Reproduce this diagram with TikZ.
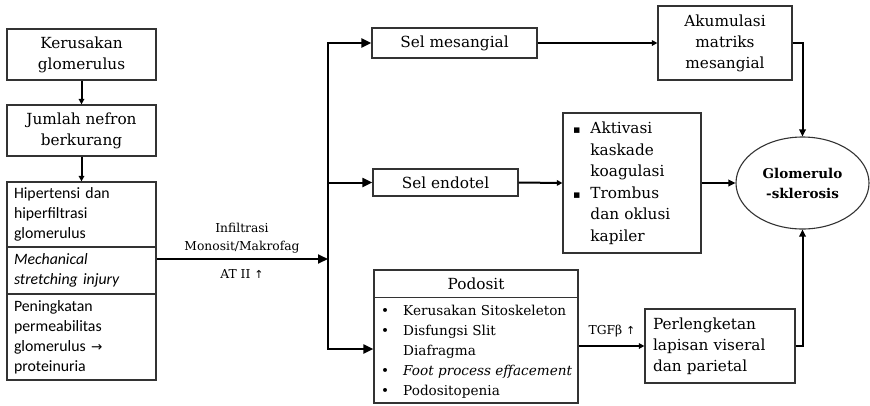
\documentclass[tikz,border=0pt]{standalone}
\usepackage{fontspec}
\setmainfont{DejaVu Serif}
\newfontfamily\sansf{Carlito}
\newfontfamily\symf{DejaVu Sans}
\usetikzlibrary{arrows.meta,shapes.geometric,calc}
\begin{document}
\begin{tikzpicture}[x=1pt,y=-1pt,
  box/.style={draw=black!80,line width=1.2pt,inner sep=0pt,align=center},
  bt/.style={font=\fontsize{15.3}{21}\selectfont},
  st/.style={font=\sansf\fontsize{15.8}{20}\selectfont},
  lab/.style={font=\fontsize{12.3}{18}\selectfont,align=center,inner sep=0pt},
  conn/.style={line width=2pt,line join=miter},
  barr/.style={conn,-{Triangle[length=10pt,width=9pt]}},
  marr/.style={conn,-{Triangle[length=7pt,width=6.5pt]}},
  sarr/.style={conn,-{Triangle[length=5.5pt,width=5.5pt]}}]
\useasboundingbox (0,0) rectangle (870,405);

% left column
\node[box,bt,minimum width=149pt,minimum height=51pt] (k1) at (81.5,54.5) {Kerusakan\\glomerulus};
\node[box,bt,minimum width=149pt,minimum height=51pt] (k2) at (81.5,130.5) {Jumlah nefron\\berkurang};
\node[box,st,text width=135pt,inner xsep=7pt,minimum height=65pt,align=left] (lb1) at (81.5,214.5) {Hipertensi dan\\hiperfiltrasi\\glomerulus};
\node[box,st,text width=135pt,inner xsep=7pt,minimum height=47pt,align=left] (lb2) at (81.5,270.5) {\itshape Mechanical\\stretching injury};
\node[box,st,text width=135pt,inner xsep=7pt,minimum height=86pt,align=left] (lb3) at (81.5,337) {Peningkatan\\permeabilitas\\glomerulus {\symf\fontsize{13.5}{20}\selectfont→}\\proteinuria};
\draw[sarr] (k1) -- (k2);
\draw[sarr] (k2) -- (lb1);

% junction
\coordinate (mid) at (328,259);
\coordinate (top) at (328,43);
\coordinate (bot) at (328,349);
\draw[barr] (lb2.east |- mid) -- (mid);
\node[lab] (inf) at (242,238.5) {Infiltrasi\\Monosit/Makrofag};
\node[lab] (at2) at (242,274) {AT II {\symf\fontsize{11}{18}\selectfont↑}};

% middle boxes
\node[box,bt,minimum width=165pt,minimum height=30pt] (mes) at (454.5,43) {Sel mesangial};
\node[box,bt,minimum width=145pt,minimum height=27pt] (endo) at (445.5,182.5) {Sel endotel};
\node[box,minimum width=204pt,minimum height=133pt] (pod) at (476,336.5) {};
\node[bt,inner sep=0pt] (podh) at (476,284) {Podosit};
\draw[draw=black!80,line width=1.2pt] ($(pod.north west)+(0,28)$) -- ($(pod.north east)+(0,28)$);
\node[anchor=west,inner sep=0pt,font=\fontsize{13.6}{20}\selectfont] (podl) at (381,351.5)
 {\begin{tabular}{@{}l@{\hspace{14pt}}l@{}}
  • & Kerusakan Sitoskeleton\\
  • & Disfungsi Slit\\
    & Diafragma\\
  • & \itshape Foot process effacement\\
  • & Podositopenia
 \end{tabular}};

\draw[barr] (bot) -- (top) -- (mes.west);
\draw[barr] (top) -- (bot) -- (pod.west |- bot);
\draw[barr] (top |- endo.west) -- (endo.west);

% right side
\node[box,bt,minimum width=134pt,minimum height=74pt] (aku) at (725,43) {Akumulasi\\matriks\\mesangial};
\node[box,text width=118pt,inner xsep=10pt,minimum height=140pt,align=left,font=\fontsize{15.3}{21.5}\selectfont] (akt) at (632,183)
 {\begin{tabular}{@{}l@{\hspace{10pt}}l@{}}
  {\symf\fontsize{11}{21.5}\selectfont▪} & Aktivasi\\
   & kaskade\\
   & koagulasi\\
  {\symf\fontsize{11}{21.5}\selectfont▪} & Trombus\\
   & dan oklusi\\
   & kapiler
 \end{tabular}};
\node[draw=black!80,line width=1.1pt,ellipse,minimum width=133pt,minimum height=92pt,inner sep=0pt,align=center,font=\bfseries\fontsize{13.5}{20}\selectfont] (ell) at (802.5,183) {Glomerulo\\-sklerosis};
\node[box,bt,text width=134pt,inner xsep=8pt,minimum height=74pt,align=left] (perl) at (720,346) {Perlengketan\\lapisan viseral\\dan parietal};
\node[lab] (tgf) at (612,331) {TGFβ {\symf\fontsize{11}{18}\selectfont↑}};

\draw[sarr] (mes.east) -- (aku.west);
\draw[sarr] (endo.east) -- (akt.west);
\draw[marr] (aku.east) -| (ell.north);
\draw[marr] (akt.east) -- (ell.west);
\draw[sarr] (pod.east |- perl.west) -- (perl.west);
\draw[marr] (perl.east) -| (ell.south);
\end{tikzpicture}
\end{document}
